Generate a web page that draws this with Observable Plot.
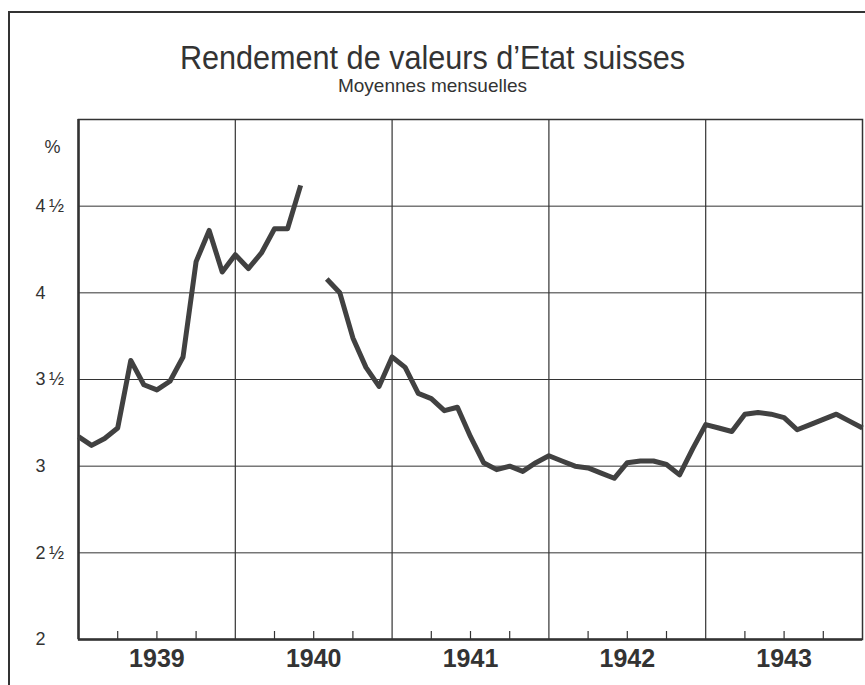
<!DOCTYPE html>
<html>
<head>
<meta charset="utf-8">
<script src="https://cdn.jsdelivr.net/npm/d3@7"></script>
<script src="https://cdn.jsdelivr.net/npm/@observablehq/plot@0.6"></script>
<style>
  html, body { margin: 0; padding: 0; background: #fff; }
  body { width: 865px; height: 685px; overflow: hidden; position: relative; font-family: "Liberation Sans", Arial, Helvetica, sans-serif; color: #333; }
  #border { position: absolute; left: 8px; top: 11px; width: 870px; height: 690px; border-left: 2px solid #333; border-top: 2px solid #333; pointer-events: none; }
  #head { position: relative; height: 105px; }
  #title { position: absolute; left: 0; right: 0; top: 40px; text-align: center; font-size: 34px; line-height: 34px; transform: scaleX(0.9); color: #333; }
  #subtitle { position: absolute; left: 0; right: 0; top: 76px; text-align: center; font-size: 19px; line-height: 19px; color: #333; }
  #chart svg { display: block; }
</style>
</head>
<body>
<div id="border"></div>
<div id="head">
  <div id="title">Rendement de valeurs d’Etat suisses</div>
  <div id="subtitle">Moyennes mensuelles</div>
</div>
<div id="chart"></div>
<script>
// Monthly average yields (%), January 1939 .. January 1944; null = no quotation
const yields = [
  3.17, 3.12, 3.16, 3.22, 3.61, 3.47, 3.44, 3.49, 3.63, 4.18, 4.36, 4.12, // 1939
  4.22, 4.14, 4.23, 4.37, 4.37, 4.62, null, 4.08, 4.00, 3.74, 3.57, 3.46, // 1940
  3.63, 3.57, 3.42, 3.39, 3.32, 3.34, 3.17, 3.02, 2.98, 3.00, 2.97, 3.02, // 1941
  3.06, 3.03, 3.00, 2.99, 2.96, 2.93, 3.02, 3.03, 3.03, 3.01, 2.95, 3.10, // 1942
  3.24, 3.22, 3.20, 3.30, 3.31, 3.30, 3.28, 3.21, 3.24, 3.27, 3.30, 3.26, // 1943
  3.22                                                                     // Jan 1944
];
const years = ["1939", "1940", "1941", "1942", "1943"];
const yTicks = [2, 2.5, 3, 3.5, 4, 4.5];
const yTickLabels = ["2", "2\u2009½", "3", "3\u2009½", "4", "4\u2009½"];
const yGrid = [2.5, 3, 3.5, 4, 4.5];
const unitLabel = "%";

const data = yields.map((v, i) => ({month: i, value: v}));
const yearBoundaries = years.map((_, i) => i * 12).slice(1);
const yearMids = years.map((_, i) => i * 12 + 6);
const quarterTicks = years.flatMap((_, i) => [i * 12 + 3, i * 12 + 6, i * 12 + 9]);
const monthCount = years.length * 12;

const ink = "#333";
const chart = Plot.plot({
  width: 865,
  height: 580,
  marginTop: 14,
  marginBottom: 46,
  marginLeft: 78,
  marginRight: 3,
  x: {domain: [0, monthCount], axis: null},
  y: {domain: [2, 5], axis: null},
  style: {fontFamily: "'Liberation Sans', Arial, Helvetica, sans-serif", color: ink, background: "transparent"},
  marks: [
    Plot.gridY(yGrid, {stroke: ink, strokeOpacity: 1, strokeWidth: 1}),
    Plot.gridX(yearBoundaries, {stroke: ink, strokeOpacity: 1, strokeWidth: 1.2}),
    Plot.frame({stroke: ink, strokeWidth: 1.5}),
    Plot.axisX(quarterTicks, {tickSize: -8, tickFormat: () => "", stroke: ink, strokeWidth: 1.2, label: null}),
    Plot.ruleX([0], {stroke: ink, strokeWidth: 2.5}),
    Plot.ruleY([2], {stroke: ink, strokeWidth: 2.5}),
    Plot.line(data, {x: "month", y: "value", stroke: "#414141", strokeWidth: 5, strokeLinejoin: "round", strokeLinecap: "butt"}),
    Plot.text(yTicks, {y: d => d, text: (d, i) => yTickLabels[i], frameAnchor: "left", dx: -43, textAnchor: "start", fontSize: 18, fill: ink}),
    Plot.text([unitLabel], {frameAnchor: "top-left", dx: -34, dy: 21, textAnchor: "start", fontSize: 18, fill: ink}),
    Plot.text(years, {x: (d, i) => yearMids[i], frameAnchor: "bottom", dy: 27, fontSize: 25, fontWeight: "bold", fill: ink})
  ]
});
document.getElementById("chart").appendChild(chart);
</script>
</body>
</html>
